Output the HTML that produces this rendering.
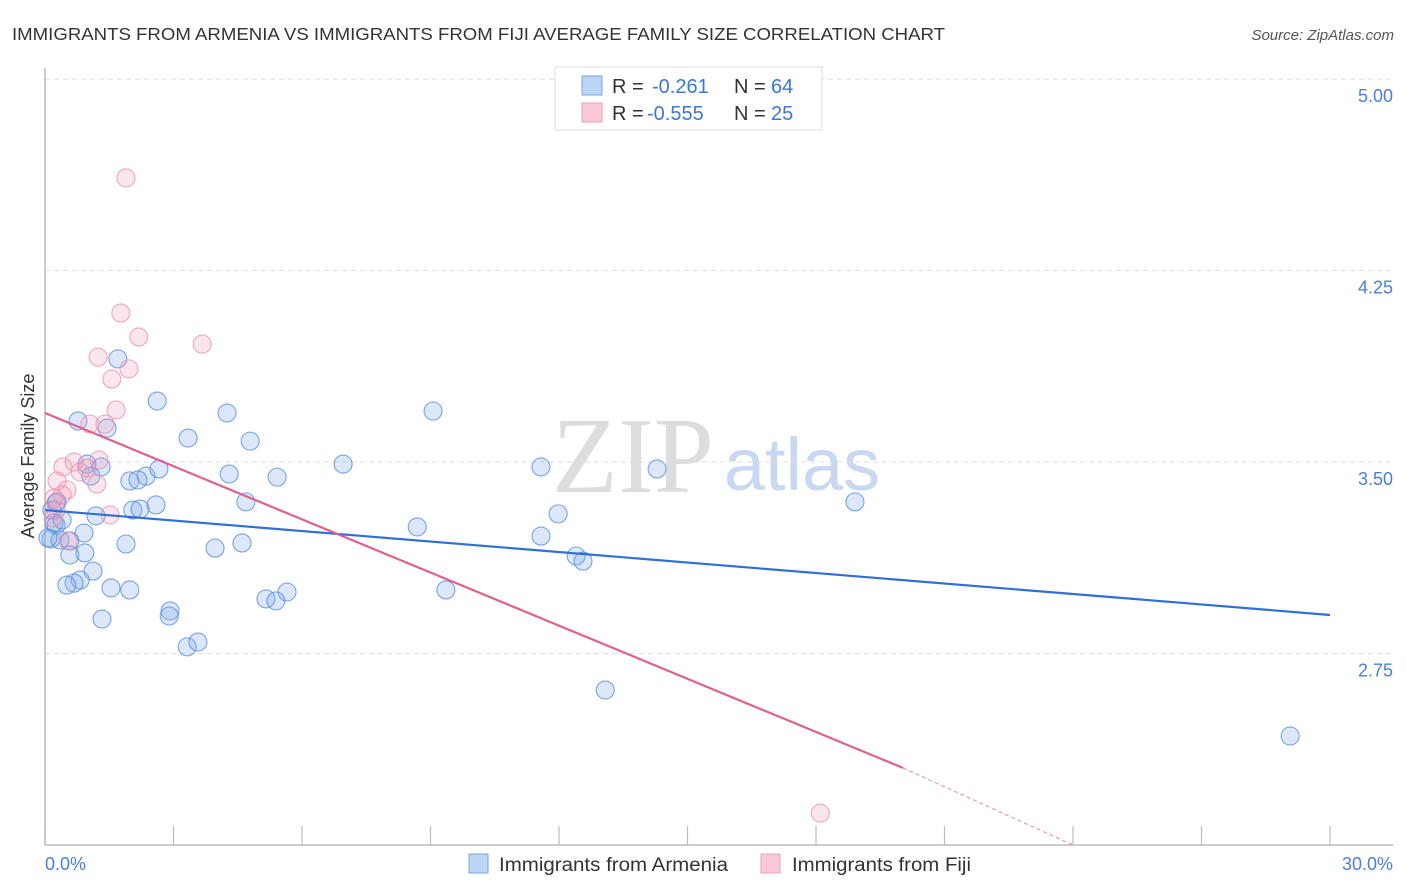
<!DOCTYPE html>
<html><head><meta charset="utf-8"><style>
body{margin:0;background:#fff;font-family:"Liberation Sans",sans-serif;}
#c{position:relative;width:1406px;height:892px;overflow:hidden;}
</style></head><body>
<div id="c">
<svg id="svg" width="1406" height="892">
<text x="12" y="40" font-size="17.5" fill="#333" textLength="933" lengthAdjust="spacingAndGlyphs">IMMIGRANTS FROM ARMENIA VS IMMIGRANTS FROM FIJI AVERAGE FAMILY SIZE CORRELATION CHART</text>
<text x="1394" y="40" font-size="15" fill="#555" font-style="italic" text-anchor="end">Source: ZipAtlas.com</text>
<text x="633" y="492" font-size="108" fill="#ddd" font-family="Liberation Serif,serif" text-anchor="middle">ZIP</text>
<text x="802" y="490" font-size="74" fill="#c8d8f0" text-anchor="middle">atlas</text>
<g id="grid"></g>
<line x1="45" y1="68" x2="45" y2="845" stroke="#bbb" stroke-width="1.5"/>
<line x1="45" y1="845" x2="1393" y2="845" stroke="#bbb" stroke-width="1.5"/>
<text transform="translate(34,456) rotate(-90)" font-size="18" fill="#333" text-anchor="middle">Average Family Size</text>
<text x="45" y="870" font-size="18" fill="#4a7fd4">0.0%</text>
<text x="1393" y="870" font-size="18" fill="#4a7fd4" text-anchor="end">30.0%</text>
<g id="marks"></g>
<g id="lines"></g>
<g>
<rect x="555" y="67" width="267" height="63" fill="#fff" stroke="#ddd"/>
<rect x="582" y="76" width="20" height="19" fill="#bcd4f5" stroke="#7aa6e6"/>
<text x="612" y="93" font-size="20" fill="#333">R = <tspan x="652" fill="#3a78d6">-0.261</tspan><tspan x="734" fill="#333">N = </tspan><tspan x="771" fill="#3a78d6">64</tspan></text>
<rect x="582" y="103" width="20" height="19" fill="#fac8d6" stroke="#eda0b8"/>
<text x="612" y="120" font-size="20" fill="#333">R = <tspan x="647" fill="#3a78d6">-0.555</tspan><tspan x="734" fill="#333">N = </tspan><tspan x="771" fill="#3a78d6">25</tspan></text>
</g>
<g>
<rect x="469" y="854" width="19" height="19" fill="#bcd4f5" stroke="#7aa6e6"/>
<text x="499" y="871" font-size="19" fill="#333" textLength="229" lengthAdjust="spacingAndGlyphs">Immigrants from Armenia</text>
</g>
<g>
<rect x="761" y="854" width="19" height="19" fill="#fac8d6" stroke="#eda0b8"/>
<text x="792" y="871" font-size="19" fill="#333" textLength="179" lengthAdjust="spacingAndGlyphs">Immigrants from Fiji</text>
</g>
</svg>
</div>
<script>
const yTicks=[5.00,4.25,3.50,2.75];
const xTicks=[0,3,6,9,12,15,18,21,24,27,30];
const armeniaX=[1.70,2.62,0.77,1.45,4.25,3.34,4.79,9.06,6.96,11.58,14.29,0.98,1.31,1.07,2.36,2.66,4.30,5.42,1.98,2.17,1.19,2.05,2.22,2.59,4.69,8.69,11.98,18.91,0.26,0.16,0.21,0.26,0.91,0.14,0.35,0.58,0.93,0.58,1.89,3.97,4.60,11.58,12.40,12.56,1.12,0.82,0.68,0.51,1.54,1.98,9.36,5.65,5.16,5.39,2.92,2.90,1.33,3.32,3.57,13.08,29.07,0.40,0.07,0.28];
const armeniaY=[3.904,3.739,3.661,3.633,3.692,3.594,3.582,3.700,3.492,3.481,3.473,3.492,3.481,3.445,3.445,3.473,3.453,3.441,3.426,3.430,3.289,3.312,3.316,3.332,3.344,3.246,3.297,3.344,3.340,3.312,3.261,3.253,3.222,3.199,3.195,3.191,3.144,3.136,3.179,3.163,3.183,3.210,3.132,3.112,3.073,3.038,3.026,3.018,3.007,2.999,2.999,2.991,2.964,2.956,2.917,2.897,2.885,2.776,2.795,2.607,2.427,3.273,3.203,3.344];
const fijiX=[1.89,1.77,2.19,3.67,1.24,1.96,1.56,1.66,1.05,1.40,0.42,0.68,0.82,1.26,0.98,0.28,0.51,1.21,0.21,0.40,1.52,0.26,0.19,0.54,18.10];
const fijiY=[4.613,4.084,3.990,3.962,3.911,3.865,3.825,3.704,3.649,3.649,3.481,3.500,3.461,3.508,3.477,3.426,3.391,3.414,3.359,3.371,3.293,3.312,3.281,3.191,2.125];
const armeniaTrend=[3.312,2.901];
const fijiTrend=[3.692,2.302,20.03,24.0];
const NS='http://www.w3.org/2000/svg';
const sx=v=>45+v/30*1285;
const sy=v=>845-(v-2)*255.3;
function mk(t,a,p){const e=document.createElementNS(NS,t);for(const k in a)e.setAttribute(k,a[k]);p.appendChild(e);return e;}
const grid=document.getElementById('grid');
yTicks.forEach(v=>{
 const l=mk('line',{x1:45,x2:1393,y1:sy(v),y2:sy(v),stroke:'#ddd','stroke-dasharray':'5,4'},grid);
 
 
 const t=mk('text',{x:1393,y:sy(v)+23,'font-size':18,fill:'#4a7fd4','text-anchor':'end'},grid);
 t.textContent=v.toFixed(2);
 
 
});
xTicks.forEach(v=>{
 const l=mk('line',{x1:sx(v),x2:sx(v),y1:826,y2:845,stroke:'#bbb','stroke-width':1.2},grid);
 
 
});
const marks=document.getElementById('marks');
armeniaX.forEach((x,i)=>{
 const c=mk('circle',{cx:sx(x),cy:sy(armeniaY[i]),r:9,fill:'rgba(130,172,235,0.28)',stroke:'rgba(80,135,220,0.75)','stroke-width':1.1},marks);
 
 
});
fijiX.forEach((x,i)=>{
 const c=mk('circle',{cx:sx(x),cy:sy(fijiY[i]),r:9,fill:'rgba(245,155,185,0.25)',stroke:'rgba(232,140,172,0.75)','stroke-width':1.1},marks);
 
 
});
const lines=document.getElementById('lines');
const bl=mk('line',{x1:sx(0),y1:sy(armeniaTrend[0]),x2:sx(30),y2:sy(armeniaTrend[1]),stroke:'#2f6fd6','stroke-width':2.2},lines);


const pl=mk('line',{x1:sx(0),y1:sy(fijiTrend[0]),x2:sx(fijiTrend[2]),y2:sy(fijiTrend[1]),stroke:'#e0608e','stroke-width':2.2},lines);


const pd=mk('line',{x1:sx(fijiTrend[2]),y1:sy(fijiTrend[1]),x2:sx(fijiTrend[3]),y2:sy(2),stroke:'#e89ab3','stroke-width':1.2,'stroke-dasharray':'4,3'},lines);


</script>
</body></html>
